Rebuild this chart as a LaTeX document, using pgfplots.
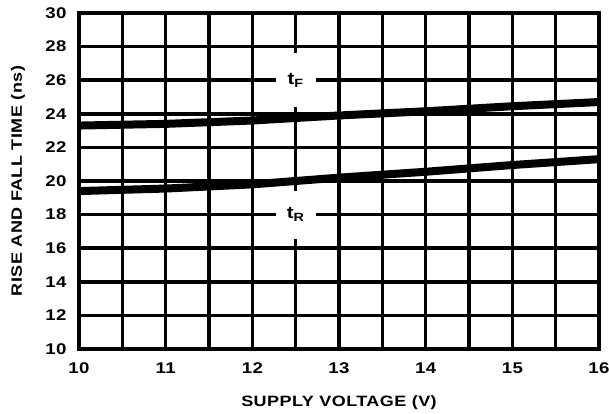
\documentclass[border=0pt]{standalone}
\usepackage{fontspec}
\setmainfont{Liberation Sans}
\newfontfamily\lab{Liberation Sans}[FakeStretch=1.2, LetterSpace=3]
\usepackage{pgfplots}
\pgfplotsset{compat=1.18}
\begin{document}
\begin{tikzpicture}
\begin{axis}[
  name=ax,
  scale only axis, width=520pt, height=336pt,
  xmin=10, xmax=16, ymin=10, ymax=30,
  xtick={10,11,...,16}, minor xtick={10.5,11.5,...,15.5},
  ytick={10,12,...,30},
  grid=both,
  major grid style={line width=3.5pt, black},
  minor grid style={line width=3.5pt, black},
  axis line style={line width=3.5pt},
  major tick length=0pt, minor tick length=0pt,
  /pgf/number format/assume math mode=true,
  ticklabel style={font=\lab\fontsize{15.5}{17}\selectfont\bfseries},
  xticklabel style={anchor=north, yshift=-10pt},
  yticklabel style={anchor=east, xshift=-9pt},
]
\addplot[black, line width=8pt] coordinates {(10,23.3) (11,23.4) (12,23.6) (13,23.9) (14,24.15) (15,24.45) (16,24.7)};
\addplot[black, line width=8pt] coordinates {(10,19.4) (11,19.55) (12,19.8) (13,20.2) (14,20.55) (15,20.95) (16,21.3)};
\node[fill=white, minimum width=40pt, minimum height=54pt, inner sep=0pt, font=\lab\fontsize{17}{19}\selectfont\bfseries] at (axis cs:12.5,26) {t\textsubscript{F}};
\node[fill=white, minimum width=40pt, minimum height=48pt, inner sep=0pt, font=\lab\fontsize{17}{19}\selectfont\bfseries] at (axis cs:12.5,18) {t\textsubscript{R}};
\end{axis}
\node[font=\lab\fontsize{15}{17}\selectfont\bfseries, anchor=center] at ([yshift=-54pt]ax.south) {SUPPLY VOLTAGE (V)};
\node[font=\lab\fontsize{15}{17}\selectfont\bfseries, anchor=center, rotate=90] at ([xshift=-61pt]ax.west) {RISE AND FALL TIME (ns)};
\pgfresetboundingbox
\path ([shift={(-79pt,-65pt)}]ax.south west) rectangle ([shift={(10pt,13pt)}]ax.north east);
\end{tikzpicture}
\end{document}
